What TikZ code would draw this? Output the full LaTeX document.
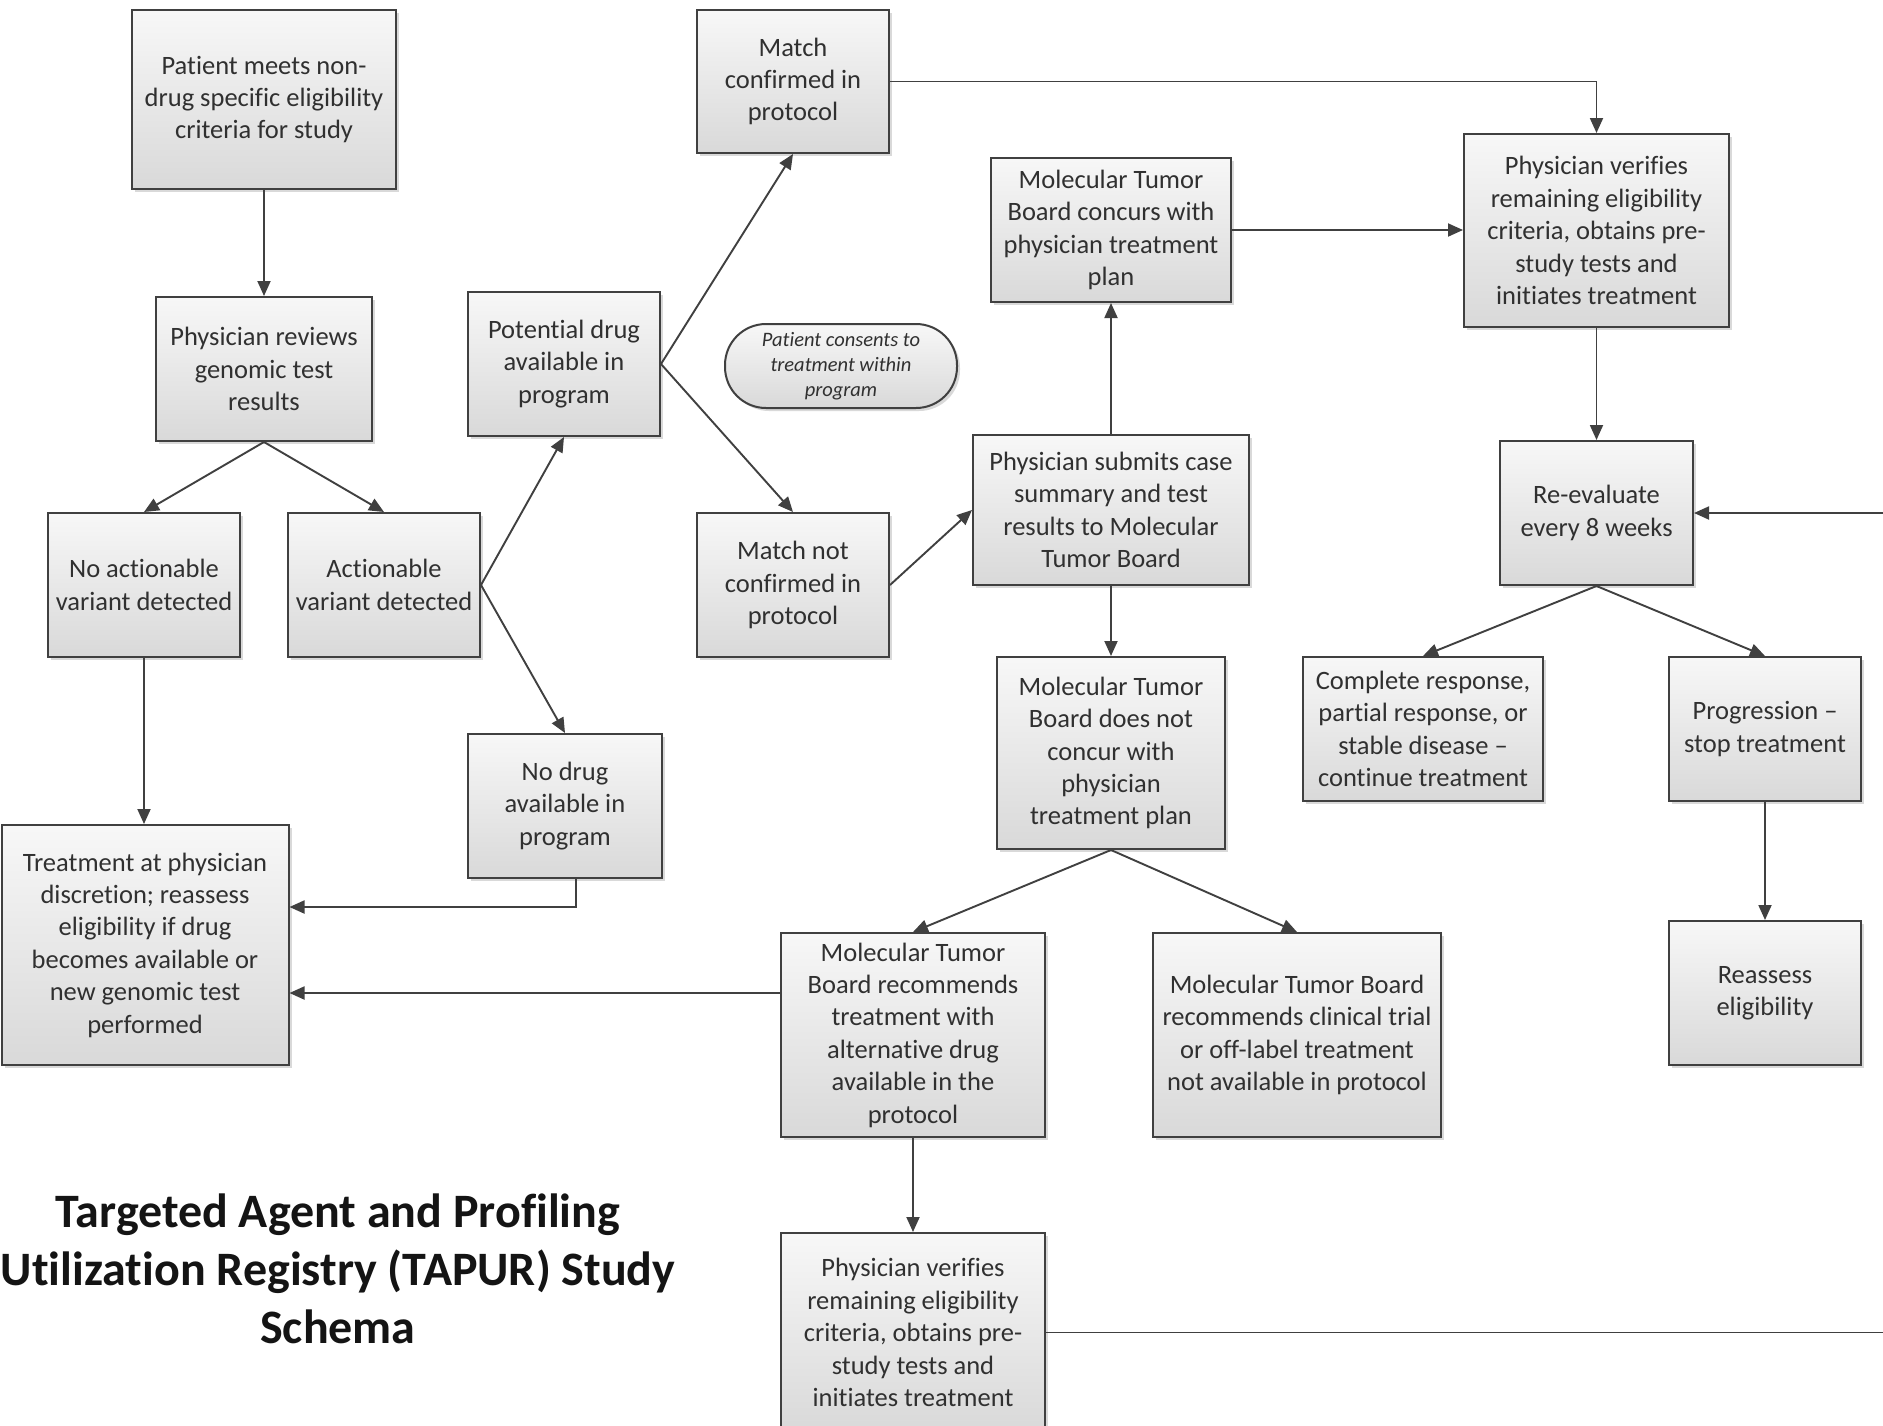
\documentclass[tikz,border=0pt]{standalone}
\usepackage{fontspec}
\setmainfont{Carlito}[Ligatures=NoCommon]
\usetikzlibrary{arrows.meta,shadows,calc}
\definecolor{edgegray}{HTML}{404040}
\definecolor{txtgray}{HTML}{303030}
\begin{document}
\begin{tikzpicture}[x=1pt,y=-1pt,
  box/.style={draw=edgegray, line width=2pt, top color=black!3, bottom color=black!15,
    drop shadow={shadow xshift=3pt, shadow yshift=-3pt, opacity=.15, fill=black},
    align=center, text=txtgray, inner sep=0pt,
    font=\fontsize{26.5}{32.4}\selectfont},
  pill/.style={box, rounded corners=41pt,
    font=\itshape\fontsize{20.5}{25}\selectfont},
  arr/.style={draw=edgegray, line width=1.9pt, -{Triangle[length=15pt,width=13pt]}},
  ]
\clip (0,0) rectangle (1883,1425);
\fill[white] (0,0) rectangle (1883,1425);

% left branch
\node[box, minimum width=264, minimum height=179] (p1) at (264,99.5)
  {Patient meets non-\\drug specific eligibility\\criteria for study};
\node[box, minimum width=216, minimum height=144] (p2) at (264,369)
  {Physician reviews\\genomic test\\results};
\node[box, minimum width=192, minimum height=144] (noact) at (144,585)
  {No actionable\\variant detected};
\node[box, minimum width=192, minimum height=144] (act) at (384,585)
  {Actionable\\variant detected};
\node[box, minimum width=287, minimum height=240] (treat) at (145,945)
  {Treatment at physician\\discretion; reassess\\eligibility if drug\\becomes available or\\new genomic test\\performed};

% drug availability
\node[box, minimum width=192, minimum height=144] (potdrug) at (564,364)
  {Potential drug\\available in\\program};
\node[box, minimum width=194, minimum height=144] (nodrug) at (565,806)
  {No drug\\available in\\program};
\node[box, minimum width=192, minimum height=143] (matchc) at (793,81.5)
  {Match\\confirmed in\\protocol};
\node[box, minimum width=192, minimum height=144] (matchn) at (793,585)
  {Match not\\confirmed in\\protocol};
\node[pill, minimum width=232, minimum height=84] (consent) at (841,366)
  {Patient consents to\\treatment within\\program};

% molecular tumor board
\node[box, minimum width=240, minimum height=144] (concur) at (1111,230)
  {Molecular Tumor\\Board concurs with\\physician treatment\\plan};
\node[box, minimum width=276, minimum height=150] (submit) at (1111,510)
  {Physician submits case\\summary and test\\results to Molecular\\Tumor Board};
\node[box, minimum width=228, minimum height=192] (notconcur) at (1111,753)
  {Molecular Tumor\\Board does not\\concur with\\physician\\treatment plan};
\node[box, minimum width=264, minimum height=204] (mtbalt) at (913,1035)
  {Molecular Tumor\\Board recommends\\treatment with\\alternative drug\\available in the\\protocol};
\node[box, minimum width=288, minimum height=204] (mtbtrial) at (1297,1035)
  {Molecular Tumor Board\\recommends clinical trial\\or off-label treatment\\not available in protocol};
\node[box, minimum width=264, minimum height=199] (verifyb) at (913,1332.5)
  {Physician verifies\\remaining eligibility\\criteria, obtains pre-\\study tests and\\initiates treatment};

% treatment and follow-up
\node[box, minimum width=265, minimum height=193] (verifyt) at (1596.5,230.5)
  {Physician verifies\\remaining eligibility\\criteria, obtains pre-\\study tests and\\initiates treatment};
\node[box, minimum width=193, minimum height=144] (reeval) at (1596.5,513)
  {Re-evaluate\\every 8 weeks};
\node[box, minimum width=240, minimum height=144] (resp) at (1423,729)
  {Complete response,\\partial response, or\\stable disease –\\continue treatment};
\node[box, minimum width=192, minimum height=144] (prog) at (1765,729)
  {Progression –\\stop treatment};
\node[box, minimum width=192, minimum height=144] (reassess) at (1765,993)
  {Reassess\\eligibility};

% title
\node[font=\bfseries\fontsize{48}{58}\selectfont, align=center, text=black!92] (title) at (338,1269)
  {Targeted Agent and Profiling\\Utilization Registry (TAPUR) Study\\Schema};

% connectors
\draw[arr] (p1.south) -- (p2.north);
\draw[arr] (p2.south) -- (noact.north);
\draw[arr] (p2.south) -- (act.north);
\draw[arr] (noact.south) -- (noact.south |- treat.north);
\draw[arr] (act.east) -- (potdrug.south);
\draw[arr] (act.east) -- (nodrug.north);
\coordinate (nodrugout) at ([xshift=11pt]nodrug.south);
\coordinate (treatin) at ([yshift=38pt]treat.east);
\draw[arr] (nodrugout) |- (treatin);
\coordinate (altout) at ([yshift=42pt]mtbalt.west);
\draw[arr] (altout) -- (altout -| treat.east);
\draw[arr] (potdrug.east) -- (matchc.south);
\draw[arr] (potdrug.east) -- (matchn.north);
\draw[arr] (matchn.east) -- (submit.west);
\draw[arr] (matchc.east) -| (verifyt.north);
\draw[arr] (concur.east) -- (concur.east -| verifyt.west);
\draw[arr] (submit.north) -- (concur.south);
\draw[arr] (submit.south) -- (notconcur.north);
\draw[arr] (notconcur.south) -- (mtbalt.north);
\draw[arr] (notconcur.south) -- (mtbtrial.north);
\draw[arr] (mtbalt.south) -- (verifyb.north);
\coordinate (loopright) at (1910,0);
\draw[arr] (verifyb.east) -- (verifyb.east -| loopright) |- (reeval.east);
\draw[arr] (verifyt.south) -- (reeval.north);
\draw[arr] (reeval.south) -- (resp.north);
\draw[arr] (reeval.south) -- (prog.north);
\draw[arr] (prog.south) -- (reassess.north);
\end{tikzpicture}
\end{document}
